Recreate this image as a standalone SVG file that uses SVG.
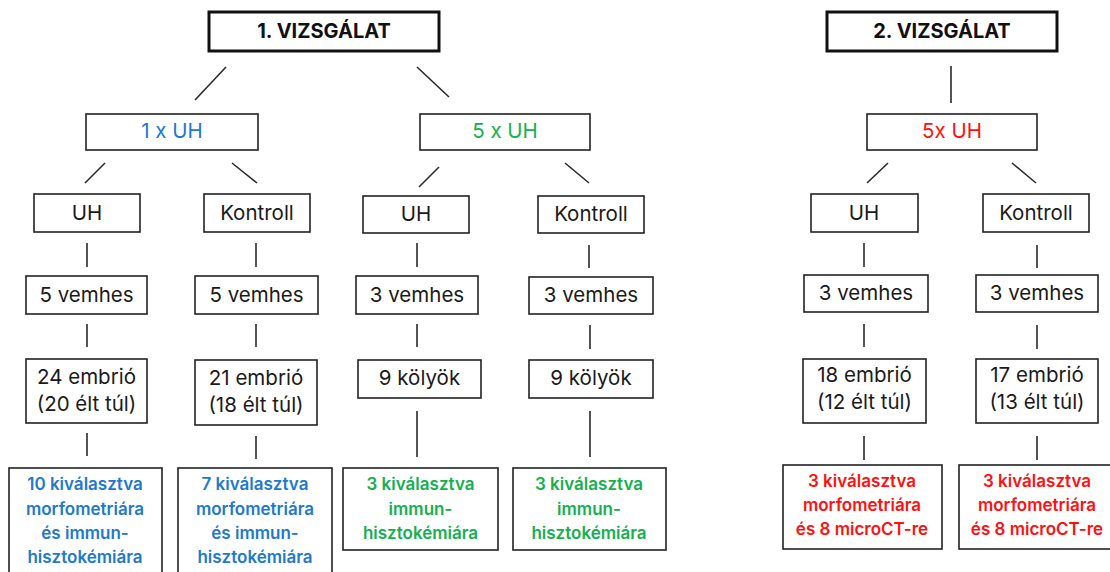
<svg xmlns="http://www.w3.org/2000/svg" width="1110" height="572" viewBox="0 0 1110 572">
<style>
  .bg { fill: #ffffff; }
  .box { fill: #ffffff; stroke: #222222; stroke-width: 1.6; }
  .title { fill: #ffffff; stroke: #111111; stroke-width: 3; }
  .t { font-family: Inter, "Liberation Sans", sans-serif; font-size: 20.5px; fill: #1a1a1a; text-anchor: middle; }
  .tb { font-family: Inter, "Liberation Sans", sans-serif; font-size: 20px; font-weight: bold; fill: #111111; text-anchor: middle; }
  .s { font-family: Inter, "Liberation Sans", sans-serif; font-size: 17px; font-weight: 600; text-anchor: middle; }
  .blue { fill: #2079cc; }
  .green { fill: #14b050; }
  .red { fill: #ff1010; }
  .c line { stroke: #2a2a2a; stroke-width: 1.6; }
</style>
<rect class="bg" x="0" y="0" width="1110" height="572"/>

<g id="connectors" class="c">
  <line x1="226" y1="67" x2="195" y2="100"/>
  <line x1="417" y1="67" x2="449" y2="97"/>
  <line x1="951" y1="66" x2="951" y2="103"/>
  <line x1="105" y1="163" x2="85" y2="183"/>
  <line x1="232" y1="163" x2="257" y2="183"/>
  <line x1="439" y1="167" x2="419" y2="187"/>
  <line x1="565" y1="163" x2="589" y2="183"/>
  <line x1="888" y1="163" x2="867" y2="183"/>
  <line x1="1012" y1="163" x2="1036" y2="183"/>
  <line x1="87" y1="243" x2="87" y2="267"/>
  <line x1="256" y1="243" x2="256" y2="267"/>
  <line x1="417" y1="243" x2="417" y2="267"/>
  <line x1="589" y1="245" x2="589" y2="268"/>
  <line x1="864" y1="243" x2="864" y2="267"/>
  <line x1="1037" y1="245" x2="1037" y2="268"/>
  <line x1="87" y1="324" x2="87" y2="347"/>
  <line x1="256" y1="324" x2="256" y2="347"/>
  <line x1="417" y1="324" x2="417" y2="347"/>
  <line x1="590" y1="325" x2="590" y2="349"/>
  <line x1="864" y1="324" x2="864" y2="347"/>
  <line x1="1037" y1="325" x2="1037" y2="349"/>
  <line x1="87" y1="433" x2="87" y2="456"/>
  <line x1="256" y1="436" x2="256" y2="459"/>
  <line x1="417" y1="411" x2="417" y2="457"/>
  <line x1="590" y1="411" x2="590" y2="457"/>
  <line x1="864" y1="436" x2="864" y2="460"/>
  <line x1="1037" y1="436" x2="1037" y2="460"/>
</g>

<g id="vizsgalat1">
  <rect class="title" x="209" y="12" width="230" height="39"/>
  <text class="tb" x="324" y="38">1. VIZSGÁLAT</text>
</g>
<g id="vizsgalat2">
  <rect class="title" x="827" y="12" width="230" height="39"/>
  <text class="tb" x="942" y="38">2. VIZSGÁLAT</text>
</g>

<g id="uh1x">
  <rect class="box" x="86" y="114" width="172" height="36"/>
  <text class="t blue" x="172" y="138">1 x UH</text>
</g>
<g id="uh5x-a">
  <rect class="box" x="420" y="114" width="170" height="36"/>
  <text class="t green" x="505" y="138">5 x UH</text>
</g>
<g id="uh5x-b">
  <rect class="box" x="867" y="114" width="170" height="36"/>
  <text class="t red" x="952" y="138">5x UH</text>
</g>

<g id="a1"><rect class="box" x="34" y="194" width="106" height="38"/><text class="t" x="87" y="220">UH</text></g>
<g id="a2"><rect class="box" x="204" y="194" width="106" height="38"/><text class="t" x="257" y="220">Kontroll</text></g>
<g id="a3"><rect class="box" x="363" y="196" width="106" height="37"/><text class="t" x="416" y="221">UH</text></g>
<g id="a4"><rect class="box" x="538" y="196" width="106" height="37"/><text class="t" x="591" y="221">Kontroll</text></g>
<g id="a5"><rect class="box" x="811" y="194" width="107" height="38"/><text class="t" x="864" y="220">UH</text></g>
<g id="a6"><rect class="box" x="983" y="194" width="106" height="38"/><text class="t" x="1036" y="220">Kontroll</text></g>

<g id="b1"><rect class="box" x="26" y="276" width="121" height="38"/><text class="t" x="86.5" y="302">5 vemhes</text></g>
<g id="b2"><rect class="box" x="195" y="276" width="123" height="38"/><text class="t" x="256.5" y="302">5 vemhes</text></g>
<g id="b3"><rect class="box" x="356" y="276" width="122" height="38"/><text class="t" x="417" y="302">3 vemhes</text></g>
<g id="b4"><rect class="box" x="529" y="277" width="124" height="37"/><text class="t" x="591" y="302">3 vemhes</text></g>
<g id="b5"><rect class="box" x="804" y="275" width="124" height="37"/><text class="t" x="866" y="300">3 vemhes</text></g>
<g id="b6"><rect class="box" x="976" y="275" width="122" height="37"/><text class="t" x="1037" y="300">3 vemhes</text></g>

<g id="c1"><rect class="box" x="26" y="359" width="121" height="64"/><text class="t" x="86.5" y="384">24 embrió</text><text class="t" x="86.5" y="411">(20 élt túl)</text></g>
<g id="c2"><rect class="box" x="195" y="360" width="122" height="65"/><text class="t" x="256" y="385">21 embrió</text><text class="t" x="256" y="412">(18 élt túl)</text></g>
<g id="c3"><rect class="box" x="358" y="360" width="123" height="38"/><text class="t" x="419.5" y="385">9 kölyök</text></g>
<g id="c4"><rect class="box" x="529" y="360" width="124" height="38"/><text class="t" x="591" y="385">9 kölyök</text></g>
<g id="c5"><rect class="box" x="803" y="359" width="123" height="64"/><text class="t" x="864.5" y="382">18 embrió</text><text class="t" x="864.5" y="409">(12 élt túl)</text></g>
<g id="c6"><rect class="box" x="976" y="359" width="122" height="64"/><text class="t" x="1037" y="382">17 embrió</text><text class="t" x="1037" y="409">(13 élt túl)</text></g>

<g id="d1"><rect class="box" x="9" y="468" width="153" height="115"/>
  <text class="s blue" x="85" y="490">10 kiválasztva</text>
  <text class="s blue" x="85" y="515">morfometriára</text>
  <text class="s blue" x="85" y="539">és immun-</text>
  <text class="s blue" x="85" y="563">hisztokémiára</text></g>
<g id="d2"><rect class="box" x="178" y="468" width="154" height="115"/>
  <text class="s blue" x="255" y="490">7 kiválasztva</text>
  <text class="s blue" x="255" y="515">morfometriára</text>
  <text class="s blue" x="255" y="539">és immun-</text>
  <text class="s blue" x="255" y="563">hisztokémiára</text></g>
<g id="d3"><rect class="box" x="343" y="468" width="155" height="82"/>
  <text class="s green" x="420.5" y="490">3 kiválasztva</text>
  <text class="s green" x="420.5" y="515">immun-</text>
  <text class="s green" x="420.5" y="539">hisztokémiára</text></g>
<g id="d4"><rect class="box" x="513" y="468" width="153" height="82"/>
  <text class="s green" x="589" y="490">3 kiválasztva</text>
  <text class="s green" x="589" y="515">immun-</text>
  <text class="s green" x="589" y="539">hisztokémiára</text></g>
<g id="d5"><rect class="box" x="783" y="465" width="159" height="84"/>
  <text class="s red" x="862" y="487">3 kiválasztva</text>
  <text class="s red" x="862" y="511">morfometriára</text>
  <text class="s red" x="862" y="535">és 8 microCT-re</text></g>
<g id="d6"><rect class="box" x="959" y="465" width="156" height="84"/>
  <text class="s red" x="1037" y="487">3 kiválasztva</text>
  <text class="s red" x="1037" y="511">morfometriára</text>
  <text class="s red" x="1037" y="535">és 8 microCT-re</text></g>
</svg>
